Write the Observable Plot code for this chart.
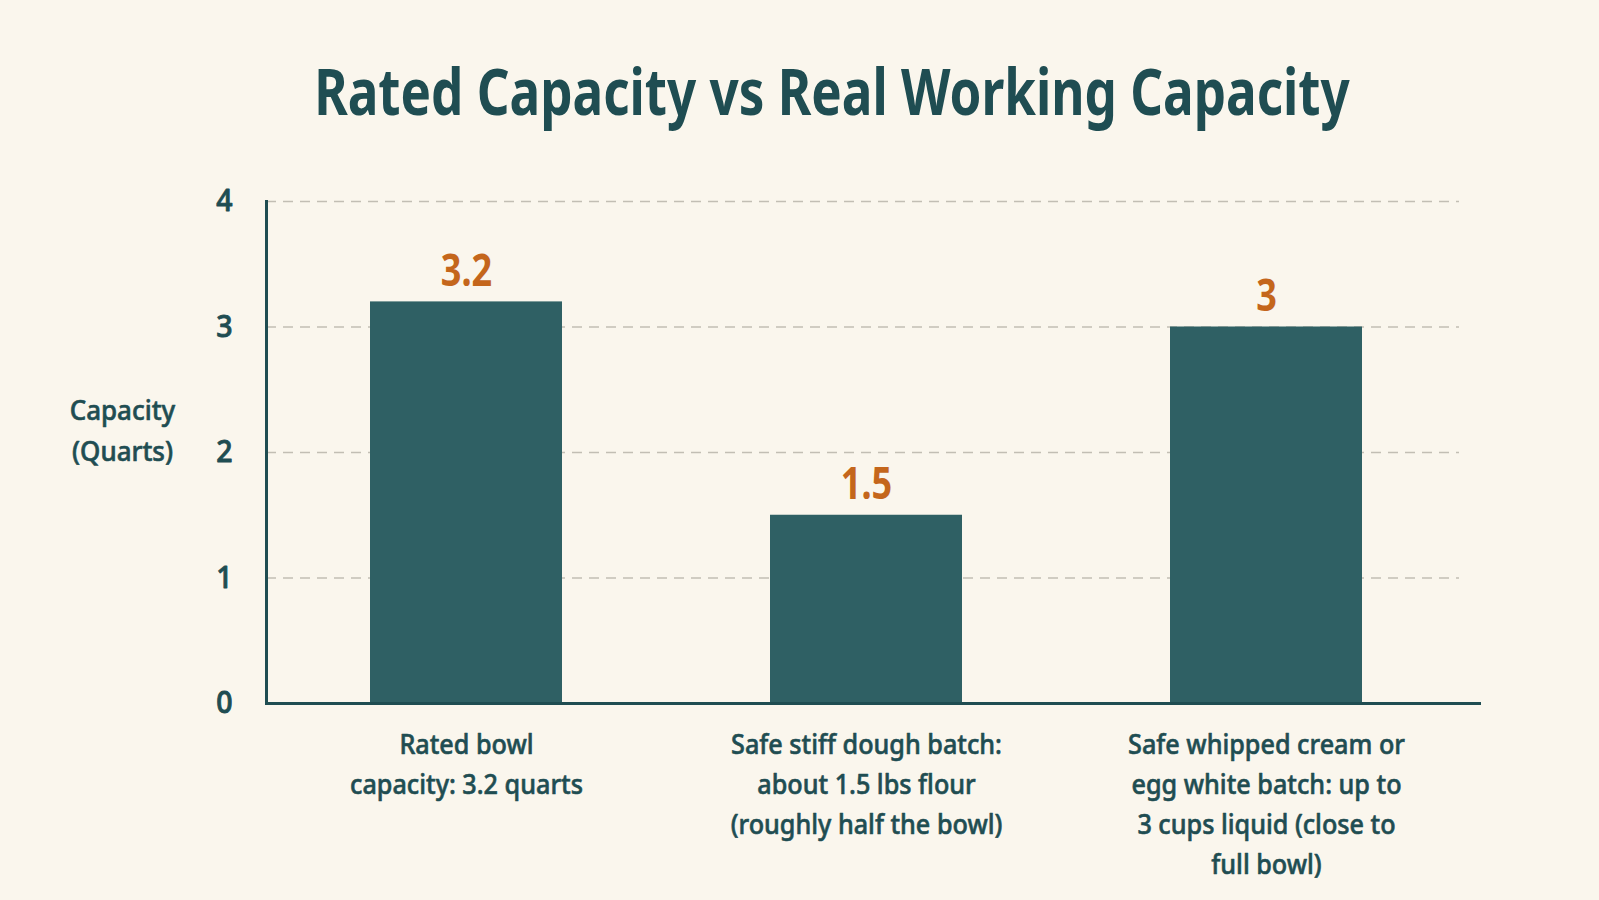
<!DOCTYPE html>
<html>
<head>
<meta charset="utf-8">
<script src="https://cdn.jsdelivr.net/npm/d3@7"></script>
<script src="https://cdn.jsdelivr.net/npm/@observablehq/plot@0.6"></script>
<style>
  html, body { margin: 0; padding: 0; background: #faf6ed; }
  body { width: 1599px; height: 900px; overflow: hidden; font-family: "Noto Sans", Lato, sans-serif; }
  #title { height: 150px; box-sizing: border-box; padding-top: 58px; padding-left: 64px; text-align: center;
           font-size: 65px; line-height: 1; font-weight: 700; color: #1f4d52; white-space: nowrap; }
  #title span { display: inline-block; transform: scaleX(0.787); }
  #chart svg { display: block; }
</style>
</head>
<body>
<div id="title"><span>Rated Capacity vs Real Working Capacity</span></div>
<div id="chart"></div>
<script>
const categories = ["Rated bowl", "Stiff dough", "Whipped cream"];
const tickLabels = [
  "Rated bowl\ncapacity: 3.2 quarts",
  "Safe stiff dough batch:\nabout 1.5 lbs flour\n(roughly half the bowl)",
  "Safe whipped cream or\negg white batch: up to\n3 cups liquid (close to\nfull bowl)"
];
const values = [3.2, 1.5, 3];
const yTicks = [0, 1, 2, 3, 4];
const gridTicks = [1, 2, 3, 4];
const yLabel = "Capacity\n(Quarts)";

const data = categories.map((c, i) => ({cat: c, value: values[i], label: tickLabels[i]}));

const ink = "#1f4d52";
const chart = Plot.plot({
  width: 1599,
  height: 750,
  marginTop: 51,
  marginBottom: 197,
  marginLeft: 266,
  marginRight: 118,
  style: {background: "transparent", fontFamily: "'Noto Sans', Lato, sans-serif", color: ink, overflow: "visible"},
  x: {domain: categories, range: [266, 1466], paddingInner: 0.52, paddingOuter: 0.26, axis: null},
  y: {domain: [0, 4], ticks: yTicks, axis: null},
  marks: [
    Plot.ruleY(gridTicks, {stroke: "#c2beb4", strokeWidth: 1.5, strokeDasharray: "10,7", insetRight: 22}),
    Plot.barY(data, {x: "cat", y: "value", fill: "#2f6064"}),
    Plot.ruleY([0], {stroke: ink, strokeWidth: 3}),
    Plot.frame({anchor: "left", stroke: ink, strokeWidth: 3}),
    Plot.text(data, {x: "cat", y: "value", text: d => String(d.value), lineAnchor: "bottom", dy: -16,
      fill: "#c4661c", fontSize: 44, fontWeight: 700}),
    Plot.text(data, {x: "cat", text: "label", frameAnchor: "bottom", lineAnchor: "top", dy: 22,
      lineHeight: 1.43, fontSize: 28, fontWeight: 500, fill: ink, stroke: ink, strokeWidth: 0.6}),
    Plot.text([yLabel], {text: d => d, frameAnchor: "left", textAnchor: "middle", dx: -144, dy: -25,
      lineHeight: 1.5, fontSize: 27, fontWeight: 500, fill: ink, stroke: ink, strokeWidth: 0.6}),
    Plot.text(yTicks, {y: d => d, text: d => d3.format("d")(d), frameAnchor: "left", textAnchor: "end",
      dx: -34, fontSize: 30, fontWeight: 500, fill: ink, stroke: ink, strokeWidth: 0.9})
  ]
});

// narrow the glyphs (the reference uses a condensed typeface)
// text mark groups in order: value labels, category labels, y label, y ticks
const squeeze = [0.82, 0.9, 0.96, 0.95];
const textGroups = chart.querySelectorAll('g[aria-label="text"]');
textGroups.forEach((g, i) => {
  const s = squeeze[i] ?? 1;
  g.querySelectorAll("text").forEach(t => {
    const tr = t.getAttribute("transform") || "";
    t.setAttribute("transform", `${tr} scale(${s},1)`);
  });
});
document.getElementById("chart").appendChild(chart);
</script>
</body>
</html>
